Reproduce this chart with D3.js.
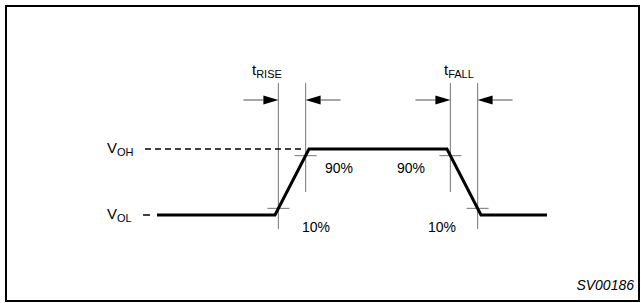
<!DOCTYPE html>
<html><head><meta charset="utf-8">
<script src="https://cdn.jsdelivr.net/npm/d3@7"></script>
<style>body{margin:0;background:#fff}svg{display:block}text{font-family:"Liberation Sans",Arial,sans-serif;fill:#000}</style>
</head><body>
<script>
// Waveform data (time units, normalized level)
const waveTimes = [0, 118, 152, 290, 324, 390];
const waveLevels = [0, 0, 1, 1, 0, 0];
const levelNames = ["V", "V"];
const levelSubs = ["OL", "OH"];
const levelValues = [0, 1];
const thresholds = [0.1, 0.9];
const thresholdLabels = ["10%", "90%"];
const timingLabels = ["RISE", "FALL"];
const figureId = "SV00186";

const W = 641, H = 303;
const svg = d3.select("body").append("svg").attr("width", W).attr("height", H);
svg.append("rect").attr("x", 6).attr("y", 6).attr("width", 633).attr("height", 295)
  .attr("fill", "none").attr("stroke", "#000").attr("stroke-width", 2);

const x = d3.scaleLinear().domain([0, 390]).range([157, 547]);
const y = d3.scaleLinear().domain([0, 1]).range([215, 149]);

const pts = waveTimes.map((t, i) => [t, waveLevels[i]]);

function cross(i0, lvl) {
  const t0 = waveTimes[i0], t1 = waveTimes[i0 + 1], v0 = waveLevels[i0], v1 = waveLevels[i0 + 1];
  return t0 + (lvl - v0) / (v1 - v0) * (t1 - t0);
}
const rise10 = cross(1, thresholds[0]), rise90 = cross(1, thresholds[1]);
const fall90 = cross(3, thresholds[1]), fall10 = cross(3, thresholds[0]);

const gray = "#8a8a8a";
const vlines = [
  {t: rise10, y1: 83, y2: 229},
  {t: rise90, y1: 83, y2: 192},
  {t: fall90, y1: 83, y2: 192},
  {t: fall10, y1: 83, y2: 229}
];
svg.selectAll("line.v").data(vlines).join("line").attr("class", "v")
  .attr("x1", d => x(d.t)).attr("x2", d => x(d.t)).attr("y1", d => d.y1).attr("y2", d => d.y2)
  .attr("stroke", gray).attr("stroke-width", 1.2);

const ticks = [
  {t: rise10, v: thresholds[0]}, {t: rise90, v: thresholds[1]}, {t: fall90, v: thresholds[1]}, {t: fall10, v: thresholds[0]}
];
svg.selectAll("line.tk").data(ticks).join("line").attr("class", "tk")
  .attr("x1", d => x(d.t) - 11).attr("x2", d => x(d.t) + 11)
  .attr("y1", d => y(d.v)).attr("y2", d => y(d.v))
  .attr("stroke", gray).attr("stroke-width", 1.2);

svg.append("line").attr("x1", 145).attr("x2", x(rise90) - 2).attr("y1", y(1)).attr("y2", y(1))
  .attr("stroke", "#000").attr("stroke-width", 1.5).attr("stroke-dasharray", "6,4");
svg.append("line").attr("x1", 143).attr("x2", 150).attr("y1", y(0)).attr("y2", y(0))
  .attr("stroke", "#000").attr("stroke-width", 1.5);

svg.append("path").datum(pts)
  .attr("d", d3.line().x(d => x(d[0])).y(d => y(d[1])))
  .attr("fill", "none").attr("stroke", "#000").attr("stroke-width", 3).attr("stroke-linejoin", "miter");

const ay = 100;
function arrow(tipX, dir) {
  const headLen = 15, tail = 20;
  svg.append("line").attr("x1", tipX - dir * (headLen + tail)).attr("x2", tipX - dir * headLen)
    .attr("y1", ay).attr("y2", ay).attr("stroke", gray).attr("stroke-width", 1.5);
  svg.append("path").attr("d", `M${tipX},${ay} L${tipX - dir * headLen},${ay - 4.5} L${tipX - dir * headLen},${ay + 4.5} Z`)
    .attr("fill", "#000");
}
arrow(x(rise10), 1); arrow(x(rise90), -1);
arrow(x(fall90), 1); arrow(x(fall10), -1);

const tl = [{x: 252, s: timingLabels[0]}, {x: 444, s: timingLabels[1]}];
tl.forEach(d => {
  const t = svg.append("text").attr("x", d.x).attr("y", 75).attr("font-size", 15);
  t.append("tspan").text("t");
  t.append("tspan").attr("font-size", 11).attr("dy", 3).text(d.s);
});

levelValues.forEach((v, i) => {
  const t = svg.append("text").attr("x", 107).attr("y", y(v) + 4).attr("font-size", 15);
  t.append("tspan").text(levelNames[i]);
  t.append("tspan").attr("font-size", 11).attr("dy", 3).text(levelSubs[i]);
});

svg.append("text").attr("x", 325).attr("y", y(0.9) + 17).attr("font-size", 14).text(thresholdLabels[1]);
svg.append("text").attr("x", 397).attr("y", y(0.9) + 17).attr("font-size", 14).text(thresholdLabels[1]);
svg.append("text").attr("x", 302).attr("y", y(0.1) + 24).attr("font-size", 14).text(thresholdLabels[0]);
svg.append("text").attr("x", 428).attr("y", y(0.1) + 24).attr("font-size", 14).text(thresholdLabels[0]);

svg.append("text").attr("x", 634).attr("y", 290).attr("text-anchor", "end")
  .attr("font-size", 14).attr("font-style", "italic").text(figureId);
</script>
</body></html>
